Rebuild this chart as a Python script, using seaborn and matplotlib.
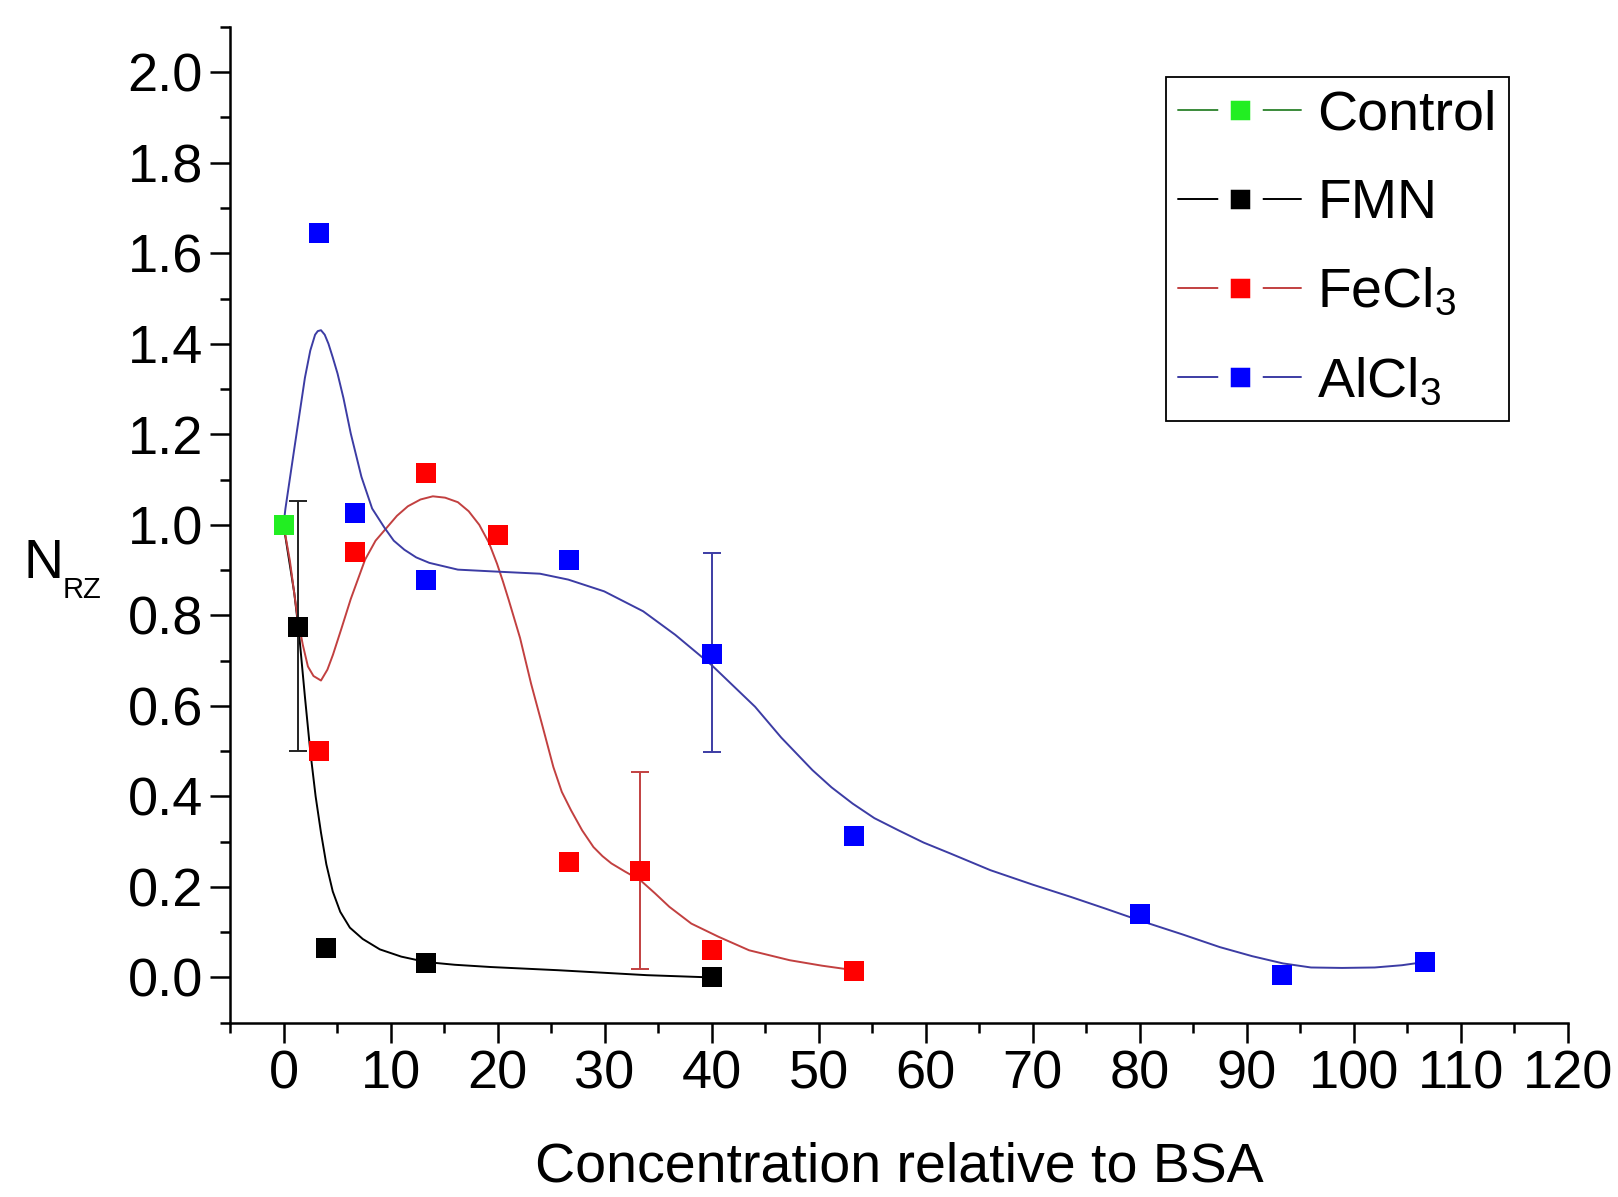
import numpy as np
import pandas as pd
import matplotlib
matplotlib.use("Agg")
import matplotlib.pyplot as plt
import seaborn as sns
from matplotlib.lines import Line2D
from matplotlib.ticker import MultipleLocator, FormatStrFormatter

# ---------------- data ----------------
control_x = [0.0]
control_y = [1.0]

fmn_x = [1.33, 4.0, 13.33, 40.0]
fmn_y = [0.775, 0.065, 0.032, 0.0]

fecl3_x = [3.33, 6.67, 13.33, 20.0, 26.67, 33.33, 40.0, 53.33]
fecl3_y = [0.50, 0.94, 1.115, 0.977, 0.255, 0.235, 0.06, 0.015]

alcl3_x = [3.33, 6.67, 13.33, 26.67, 40.0, 53.33, 80.0, 93.33, 106.67]
alcl3_y = [1.644, 1.027, 0.878, 0.922, 0.715, 0.313, 0.14, 0.005, 0.034]

# error bars: x, centre, lower extent, upper extent
fmn_err_x, fmn_err_y, fmn_err_lo, fmn_err_hi = [1.33], [0.775], [0.275], [0.278]
fecl3_err_x, fecl3_err_y, fecl3_err_lo, fecl3_err_hi = [33.33], [0.235], [0.216], [0.218]
alcl3_err_x, alcl3_err_y, alcl3_err_lo, alcl3_err_hi = [40.0], [0.715], [0.218], [0.222]

# smooth fitted curves, sampled along the drawn lines of the reference
fmn_fit_x = [0.0, 0.6, 1.0, 1.45, 2.0, 2.49, 3.0, 3.5, 4.0, 4.6, 5.3, 6.2, 7.4,
             9.0, 11.0, 13.33, 16.0, 19.37, 25.62, 33.96, 40.0]
fmn_fit_y = [1.0, 0.91, 0.85, 0.76, 0.62, 0.502, 0.40, 0.32, 0.25, 0.19, 0.145,
             0.11, 0.085, 0.062, 0.046, 0.034, 0.028, 0.023, 0.016, 0.005, 0.0]

fecl3_fit_x = [0.0, 0.6, 1.28, 1.8, 2.28, 2.8, 3.5, 4.1, 4.62, 5.4, 6.28, 7.62,
               8.6, 9.62, 10.6, 11.62, 12.8, 13.95, 15.1, 16.29, 17.3, 18.29,
               19.2, 19.95, 20.5, 21.04, 22.1, 23.13, 24.2, 25.21, 26.0, 26.87,
               27.9, 28.96, 29.8, 30.63, 31.9, 33.33, 34.7, 36.05, 38.1, 40.63,
               43.5, 47.3, 50.3, 53.3]
fecl3_fit_y = [1.0, 0.92, 0.80, 0.735, 0.687, 0.666, 0.656, 0.68, 0.713, 0.77,
               0.836, 0.923, 0.965, 0.993, 1.02, 1.041, 1.056, 1.063, 1.060, 1.05,
               1.03, 1.0, 0.96, 0.914, 0.875, 0.834, 0.75, 0.649, 0.555, 0.465,
               0.41, 0.369, 0.325, 0.288, 0.268, 0.252, 0.234, 0.215, 0.186,
               0.156, 0.119, 0.09, 0.060, 0.038, 0.026, 0.016]

alcl3_fit_x = [0.0, 0.18, 1.0, 2.0, 2.5, 2.95, 3.2, 3.5, 3.85, 4.2, 4.6, 5.05,
               5.6, 6.28, 7.28, 8.28, 9.45, 10.3, 11.29, 12.4, 13.62, 16.29, 19.6,
               23.96, 26.6, 29.96, 33.6, 36.6, 40.0, 44.06, 46.5, 49.42, 51.2,
               53.18, 55.2, 57.46, 59.8, 62.29, 66.04, 70.0, 73.55, 76.8, 79.97,
               84.0, 87.48, 90.5, 93.38, 96.0, 98.9, 101.95, 104.5, 106.6]
alcl3_fit_y = [1.0, 1.036, 1.167, 1.325, 1.385, 1.42, 1.428, 1.43, 1.42, 1.40,
               1.37, 1.334, 1.28, 1.202, 1.106, 1.036, 0.993, 0.965, 0.945, 0.928,
               0.916, 0.901, 0.897, 0.892, 0.879, 0.853, 0.809, 0.757, 0.69, 0.598,
               0.53, 0.458, 0.42, 0.384, 0.352, 0.325, 0.298, 0.274, 0.237, 0.205,
               0.178, 0.152, 0.126, 0.095, 0.067, 0.047, 0.031, 0.022, 0.021,
               0.022, 0.027, 0.034]

legend_labels = ["Control", "FMN", "FeCl$_3$", "AlCl$_3$"]

# ---------------- style ----------------
sns.set_style("ticks")
plt.rcParams['font.family'] = ['Liberation Sans', 'DejaVu Sans']
plt.rcParams['mathtext.fontset'] = 'custom'
plt.rcParams['mathtext.rm'] = 'Liberation Sans'
plt.rcParams['mathtext.it'] = 'Liberation Sans:italic'
plt.rcParams['mathtext.bf'] = 'Liberation Sans:bold'
plt.rcParams['mathtext.default'] = 'regular'
plt.rcParams['text.color'] = 'black'
plt.rcParams['axes.labelcolor'] = 'black'
plt.rcParams['xtick.color'] = 'black'
plt.rcParams['ytick.color'] = 'black'
plt.rcParams['axes.edgecolor'] = 'black'

c_green_mk, c_green_ln = "#22ee22", "#3a8a3a"
c_black = "#000000"
c_red_mk, c_red_ln = "#ff0000", "#c24040"
c_blue_mk, c_blue_ln = "#0000ff", "#3c3ca4"

W, H = 1618, 1197
fig = plt.figure(figsize=(W / 100, H / 100), dpi=100)
x_left, x_right, y_top, y_bot = 230, 1567.9, 26.95, 1022.7
ax = fig.add_axes([x_left / W, 1 - y_bot / H, (x_right - x_left) / W, (y_bot - y_top) / H])

# curves
for fx, fy, c in [(fmn_fit_x, fmn_fit_y, c_black),
                  (fecl3_fit_x, fecl3_fit_y, c_red_ln),
                  (alcl3_fit_x, alcl3_fit_y, c_blue_ln)]:
    sns.lineplot(x=fx, y=fy, sort=False, estimator=None, color=c, lw=1.4, ax=ax, zorder=2)

# error bars
for ex, ey, lo, hi, c in [(fmn_err_x, fmn_err_y, fmn_err_lo, fmn_err_hi, "#222222"),
                          (fecl3_err_x, fecl3_err_y, fecl3_err_lo, fecl3_err_hi, c_red_ln),
                          (alcl3_err_x, alcl3_err_y, alcl3_err_lo, alcl3_err_hi, c_blue_ln)]:
    ax.errorbar(ex, ey, yerr=[lo, hi], fmt='none', ecolor=c, elinewidth=1.4,
                capsize=6.8, capthick=1.4, zorder=3)

# markers
for px, py, c in [(fmn_x, fmn_y, c_black), (fecl3_x, fecl3_y, c_red_mk),
                  (alcl3_x, alcl3_y, c_blue_mk), (control_x, control_y, c_green_mk)]:
    sns.scatterplot(x=px, y=py, marker='s', s=14.4 ** 2, color=c, edgecolor='none',
                    linewidth=0, ax=ax, zorder=4)

# axes
ax.set_xlim(-5, 120)
ax.set_ylim(-0.1, 2.1)
ax.set_xticks(np.arange(0, 121, 10))
ax.xaxis.set_minor_locator(MultipleLocator(5))
ax.set_yticks(np.arange(0, 2.01, 0.2))
ax.yaxis.set_minor_locator(MultipleLocator(0.1))
ax.yaxis.set_major_formatter(FormatStrFormatter('%.1f'))
ax.tick_params(which='major', length=14.4, width=1.8, labelsize=39, pad=5,
               direction='out', color='black', labelcolor='black')
ax.tick_params(which='minor', length=7.2, width=1.8, direction='out', color='black')
for s in ['top', 'right']:
    ax.spines[s].set_visible(False)
for s in ['left', 'bottom']:
    ax.spines[s].set_linewidth(1.8)
    ax.spines[s].set_color('black')
ax.set_xlabel("Concentration relative to BSA", fontsize=40, labelpad=30, color='black')
ax.set_ylabel("")

fig.text(24 / W, 1 - 578 / H, "N", fontsize=40, ha='left', va='baseline', color='black')
fig.text(63 / W, 1 - 598 / H, "RZ", fontsize=21, ha='left', va='baseline', color='black')

# legend
handles = []
for ln_c, mk_c in [(c_green_ln, c_green_mk), (c_black, c_black),
                   (c_red_ln, c_red_mk), (c_blue_ln, c_blue_mk)]:
    handles.append(Line2D([], [], color=ln_c, lw=1.4, marker='s', ms=23.4,
                          mfc=mk_c, mec='white', mew=9))
leg = ax.legend(handles, legend_labels, loc='upper left',
                bbox_to_anchor=(1166 / W, 1 - 77 / H), bbox_transform=fig.transFigure,
                borderaxespad=0, fontsize=40, handlelength=2.21, handletextpad=0.29,
                borderpad=0.22, labelspacing=0.67, frameon=True, fancybox=False,
                edgecolor='black', framealpha=1, numpoints=1, labelcolor='black')
leg.get_frame().set_linewidth(1.3)

fig.savefig("out.png", dpi=100, facecolor='white')
